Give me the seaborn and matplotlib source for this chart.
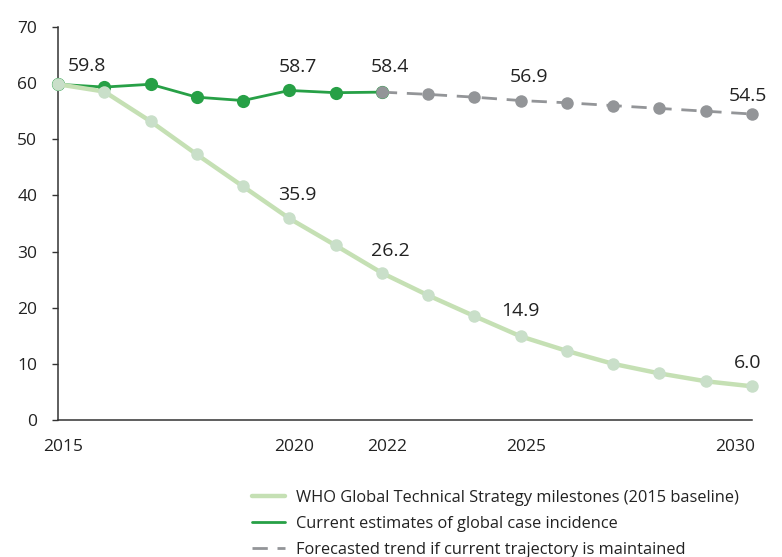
import matplotlib
matplotlib.use("Agg")
import matplotlib.pyplot as plt
import matplotlib.transforms as mtransforms
import seaborn as sns
import pandas as pd

years_who = [2015, 2016, 2017, 2018, 2019, 2020, 2021, 2022, 2023, 2024, 2025, 2026, 2027, 2028, 2029, 2030]
who_values = [59.8, 58.5, 53.2, 47.3, 41.6, 35.9, 31.1, 26.2, 22.2, 18.5, 14.9, 12.3, 10.0, 8.3, 6.9, 6.0]

years_current = [2015, 2016, 2017, 2018, 2019, 2020, 2021, 2022]
current_values = [59.8, 59.3, 59.8, 57.5, 56.9, 58.7, 58.3, 58.4]

years_forecast = [2022, 2023, 2024, 2025, 2026, 2027, 2028, 2029, 2030]
forecast_values = [58.4, 58.0, 57.5, 56.9, 56.5, 56.0, 55.5, 55.0, 54.5]

label_who = "WHO Global Technical Strategy milestones (2015 baseline)"
label_current = "Current estimates of global case incidence"
label_forecast = "Forecasted trend if current trajectory is maintained"

x_ticks = [2015, 2020, 2022, 2025, 2030]
y_ticks = [0, 10, 20, 30, 40, 50, 60, 70]

who_labels_years = [2020, 2022, 2025, 2030]
top_labels_years = [2015, 2020, 2022]
forecast_labels_years = [2025, 2030]

sns.set_style("white")
plt.rcParams["font.family"] = ["Open Sans", "DejaVu Sans"]

LIGHT = "#c5e0b4"
LIGHT_MK = "#c9dfc9"
GREEN = "#27a046"
GREY = "#939598"
TXT = "#222222"

fig = plt.figure(figsize=(7.82, 5.57), dpi=100)
ax = fig.add_axes([58 / 782, 1 - 420 / 557, (752 - 58) / 782, (420 - 27) / 557])

df_cur = pd.DataFrame({"year": years_current, "value": current_values})
df_fc = pd.DataFrame({"year": years_forecast, "value": forecast_values})
df_who = pd.DataFrame({"year": years_who, "value": who_values})

sns.lineplot(data=df_cur, x="year", y="value", ax=ax, color=GREEN, lw=2.0,
             marker="o", markersize=9.5, markeredgewidth=0, markerfacecolor=GREEN,
             label=label_current, zorder=3, clip_on=False)
sns.lineplot(data=df_fc, x="year", y="value", ax=ax, color=GREY, lw=2.0,
             marker="o", markersize=9, markeredgewidth=0, markerfacecolor=GREY,
             label=label_forecast, zorder=4, clip_on=False)
ax.lines[-1].set_dashes([5.5, 3.5])
sns.lineplot(data=df_who, x="year", y="value", ax=ax, color=LIGHT, lw=3.2,
             marker="o", markersize=9, markeredgewidth=0, markerfacecolor=LIGHT_MK,
             label=label_who, zorder=5, clip_on=False)

ax.set_xlim(2015, 2030)
ax.set_ylim(0, 70)
ax.set_xticks(x_ticks)
ax.set_xticklabels([str(y) for y in x_ticks])
ax.set_yticks(y_ticks)
ax.set_xlabel("")
ax.set_ylabel("")

for s in ["top", "right"]:
    ax.spines[s].set_visible(False)
for s in ["left", "bottom"]:
    ax.spines[s].set_color("#333333")
    ax.spines[s].set_linewidth(1.1)

ax.tick_params(axis="y", length=4, width=1, color="#333333", pad=11, labelsize=12.5, labelcolor=TXT, left=True)
ax.tick_params(axis="x", length=0, pad=14, labelsize=12.5, labelcolor=TXT, bottom=True)

off = mtransforms.ScaledTranslation(5 / 100, 0, fig.dpi_scale_trans)
xlabels = ax.get_xticklabels()
for i, lab in enumerate(xlabels):
    if i == len(xlabels) - 1:
        lab.set_ha("right")
        lab.set_transform(lab.get_transform() + mtransforms.ScaledTranslation(3 / 100, 0, fig.dpi_scale_trans))
    else:
        lab.set_transform(lab.get_transform() + off)

def annotate(xs, ys, years, dx_map=None):
    for yr in years:
        v = ys[xs.index(yr)]
        dx = 6
        dy = 17
        if dx_map and yr in dx_map:
            dx, dy = dx_map[yr]
        ax.annotate(f"{v:.1f}", xy=(yr, v), xytext=(dx, dy), textcoords="offset points",
                    ha="center", va="center", fontsize=14, color=TXT, zorder=6,
                    annotation_clip=False)

annotate(years_current, current_values, top_labels_years, {2015: (21, 13), 2020: (6, 17), 2022: (6, 18)})
annotate(years_forecast, forecast_values, forecast_labels_years, {2025: (6, 17), 2030: (-3, 13)})
annotate(years_who, who_values, who_labels_years, {2020: (6, 17), 2022: (6, 16), 2025: (0, 18), 2030: (-3, 17)})

ax.get_legend().remove()
h, l = ax.get_legend_handles_labels()
order = [l.index(label_who), l.index(label_current), l.index(label_forecast)]
fig.legend([h[i] for i in order], [l[i] for i in order], loc="upper left",
           bbox_to_anchor=(252 / 782, 1 - 490 / 557), frameon=False,
           fontsize=11.8, handlelength=2.0, handletextpad=0.67, labelspacing=0.6,
           borderpad=0, borderaxespad=0, labelcolor=TXT)
leg = fig.legends[0]
for line in leg.get_lines():
    line.set_marker("")

fig.savefig("out.png", dpi=100)
